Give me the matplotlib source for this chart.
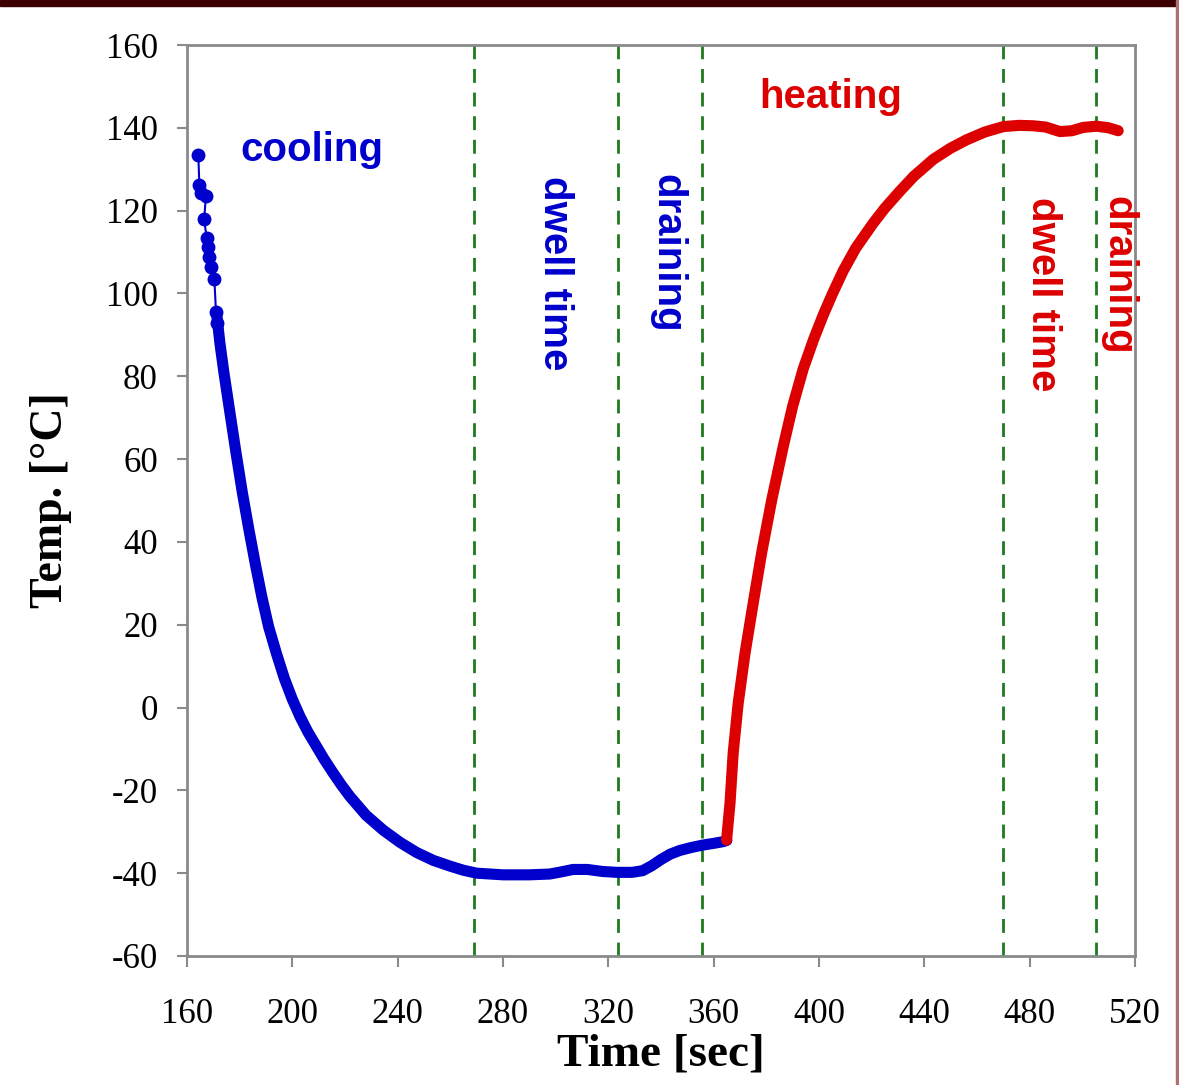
import matplotlib
matplotlib.use("Agg")
from matplotlib import pyplot as plt
from matplotlib.patches import Rectangle

# cooling run (blue): first few sparse readings, then the dense curve
cool_t_sparse = [164.3, 164.7, 165.2, 167.2, 166.5, 167.5, 168.1, 168.5, 169.0, 170.4, 171.0, 171.5]
cool_T_sparse = [133.4, 126.2, 124.2, 123.5, 117.9, 113.3, 111.3, 108.9, 106.5, 103.4, 95.6, 92.8]

cool_t = [171.0, 171.2, 172.5, 174.0, 176.0, 178.5, 181.0, 183.5, 186.0, 188.5, 191.0, 194.0,
          197.0, 200.0, 203.0, 206.0, 209.2, 212.0, 215.5, 218.5, 221.9, 228.0, 234.5, 241.0,
          247.2, 253.5, 259.9, 265.0, 270.0, 280.0, 290.0, 297.8, 302.0, 306.6, 312.0, 318.0,
          323.2, 329.0, 333.0, 336.5, 340.0, 343.5, 347.2, 351.5, 356.0, 360.0, 363.5, 365.0]
cool_T = [95.6, 95.5, 88.0, 81.0, 72.5, 62.0, 52.0, 43.0, 34.5, 26.5, 19.5, 13.0,
          7.0, 2.0, -2.3, -6.0, -9.4, -12.4, -15.8, -18.6, -21.5, -26.0, -29.6, -32.6,
          -35.0, -36.9, -38.3, -39.3, -40.0, -40.4, -40.4, -40.2, -39.7, -39.1, -39.1, -39.6,
          -39.8, -39.8, -39.4, -38.2, -36.7, -35.4, -34.5, -33.8, -33.2, -32.8, -32.4, -32.1]

# heating run (red)
heat_t = [364.9, 366.2, 367.4, 369.3, 371.9, 375.0, 378.2, 382.0, 386.4, 390.0, 394.0, 398.0,
          401.6, 405.0, 409.2, 414.0, 420.6, 425.0, 430.7, 436.0, 443.4, 450.0, 456.0, 463.0,
          470.0, 476.0, 481.3, 486.0, 491.5, 496.0, 500.3, 505.4, 510.0, 513.6]
heat_T = [-32.0, -23.1, -11.0, 1.0, 13.1, 25.2, 37.3, 50.0, 63.0, 72.8, 81.8, 89.0,
          94.8, 99.8, 105.5, 111.0, 117.0, 120.6, 124.7, 128.3, 132.4, 135.1, 137.1, 139.0,
          140.3, 140.6, 140.5, 140.2, 139.1, 139.3, 140.1, 140.4, 140.0, 139.3]

# phase boundaries
phase_lines = [269.0, 323.6, 355.7, 470.0, 505.0]

x_ticks = list(range(160, 521, 40))
y_ticks = list(range(-60, 161, 20))

blue = "#0000cc"
red = "#dd0000"
green = "#1e7a1e"
gray = "#8a8a8a"

fig = plt.figure(figsize=(11.79, 10.85), dpi=100)
ax = fig.add_axes([0.1586, 0.1189, 0.8041, 0.8396])

# top frame bar
fig.patches.append(Rectangle((0, 0.9945), 1, 0.0055, transform=fig.transFigure,
                             color="#3d0000", zorder=0))
fig.patches.append(Rectangle((0.9975, 0), 0.0025, 1, transform=fig.transFigure,
                             color="#b07070", zorder=0))

for x in phase_lines:
    ax.axvline(x, color=green, linestyle=(0, (5, 3.5)), linewidth=2.0, zorder=1)

ax.plot(cool_t_sparse, cool_T_sparse, color=blue, linewidth=1.5, marker="o",
        markersize=9, zorder=3)
ax.plot(cool_t, cool_T, color=blue, linewidth=8, solid_capstyle="round",
        solid_joinstyle="round", zorder=3)
ax.plot(heat_t, heat_T, color=red, linewidth=8, solid_capstyle="round",
        solid_joinstyle="round", zorder=4)

# phase labels
sans = "Liberation Sans"
ax.text(207.5, 134.6, "cooling", color=blue, fontsize=29, fontweight="bold",
        family=sans, ha="center", va="center")
ax.text(404.5, 147.4, "heating", color=red, fontsize=29, fontweight="bold",
        family=sans, ha="center", va="center")
ax.text(299.7, 104.9, "dwell time", color=blue, fontsize=29, fontweight="bold",
        family=sans, ha="center", va="center", rotation=-90)
ax.text(342.6, 109.8, "draining", color=blue, fontsize=29, fontweight="bold",
        family=sans, ha="center", va="center", rotation=-90)
ax.text(485.0, 99.9, "dwell time", color=red, fontsize=29, fontweight="bold",
        family=sans, ha="center", va="center", rotation=-90)
ax.text(513.5, 104.5, "draining", color=red, fontsize=29, fontweight="bold",
        family=sans, ha="center", va="center", rotation=-90)

ax.set_xlim(160, 520)
ax.set_ylim(-60, 160)
ax.set_xticks(x_ticks)
ax.set_yticks(y_ticks)

serif = "Liberation Serif"
ax.set_xticklabels([str(v) for v in x_ticks], family=serif, fontsize=25)
ax.set_yticklabels([str(v) for v in y_ticks], family=serif, fontsize=25)
ax.tick_params(axis="x", direction="out", length=8, width=1.5, color=gray, pad=22)
ax.tick_params(axis="y", direction="out", length=7, width=1.5, color=gray, pad=14)

for s in ax.spines.values():
    s.set_color(gray)
    s.set_linewidth(2)

ax.set_xlabel("Time [sec]", family=serif, fontsize=34, fontweight="bold", labelpad=2)
ax.set_ylabel("Temp. [°C]", family=serif, fontsize=33, fontweight="bold", labelpad=24)

fig.savefig("out.png", dpi=100)
